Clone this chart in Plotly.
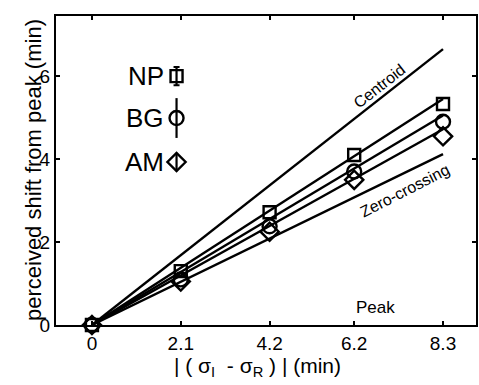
import plotly.graph_objects as go

# ---- data ----
x_vals = [0, 2.1, 4.2, 6.2, 8.3]
tick_labels = ["0", "2.1", "4.2", "6.2", "8.3"]
np_vals = [0, 1.30, 2.72, 4.10, 5.33]
bg_vals = [0, 1.10, 2.38, 3.70, 4.90]
am_vals = [0, 1.05, 2.25, 3.50, 4.55]

line_x = [0, 8.3]
centroid_line = [0, 6.65]
np_line = [0, 5.45]
bg_line = [0, 5.05]
am_line = [0, 4.72]
zero_line = [0, 4.12]

observers = ["NP", "BG", "AM"]
legend_err = [0.22, 0.48, 0.22]

FONT = "Liberation Sans, Arial, Helvetica, sans-serif"

fig = go.Figure()

for ys in [centroid_line, np_line, bg_line, am_line, zero_line]:
    fig.add_trace(go.Scatter(x=line_x, y=ys, mode="lines",
                             line=dict(color="black", width=2.4),
                             showlegend=False, hoverinfo="skip"))

sym = {"NP": "square-open", "BG": "circle-open", "AM": "diamond-open"}
vals = {"NP": np_vals, "BG": bg_vals, "AM": am_vals}
sizes = {"NP": 12, "BG": 14, "AM": 14}
for name in ["AM", "BG", "NP"]:
    fig.add_trace(go.Scatter(x=x_vals, y=vals[name], mode="markers",
                             marker=dict(symbol=sym[name], size=sizes[name], color="black",
                                         line=dict(width=2.4, color="black")),
                             cliponaxis=False, showlegend=False))

# legend block
leg_y = [6.0, 4.99, 3.93]
for name, ly, err in zip(observers, leg_y, legend_err):
    fig.add_trace(go.Scatter(x=[2.0], y=[ly], mode="markers",
                             marker=dict(symbol=sym[name], size=sizes[name], color="black",
                                         line=dict(width=2.4, color="black")),
                             error_y=dict(type="constant", value=err, color="black",
                                          thickness=2.2, width=3 if name == "NP" else 0),
                             showlegend=False))
    fig.add_annotation(x=1.74, y=ly, text=name, showarrow=False, xanchor="right",
                       yanchor="middle", font=dict(size=26, family=FONT, color="black"))

fig.add_annotation(x=6.78, y=5.76, text="Centroid", showarrow=False, textangle=-38,
                   font=dict(size=16, family=FONT, color="black"))
fig.add_annotation(x=7.40, y=3.24, text="Zero-crossing", showarrow=False, textangle=-27,
                   font=dict(size=16, family=FONT, color="black"))
fig.add_annotation(x=6.71, y=0.41, text="Peak", showarrow=False,
                   font=dict(size=17, family=FONT, color="black"))

fig.add_annotation(xref="paper", yref="paper", x=-0.088, y=0.50,
                   text="perceived shift from peak (min)", textangle=-90, showarrow=False,
                   font=dict(size=22, family=FONT, color="black"))
fig.add_annotation(xref="paper", yref="paper", x=0.48, y=-0.135, yanchor="middle",
                   text="| ( σ<sub>I</sub>  - σ<sub>R</sub> ) | (min)", showarrow=False,
                   font=dict(size=21, family=FONT, color="black"))

axis_common = dict(showline=True, linewidth=2.2, linecolor="black", mirror="ticks",
                   ticks="inside", ticklen=4, tickwidth=2, tickcolor="black",
                   showgrid=False, zeroline=False,
                   tickfont=dict(size=19, family=FONT, color="black"))

fig.update_xaxes(range=[-0.85, 9.08], tickvals=x_vals, ticktext=tick_labels, **axis_common)
fig.update_yaxes(range=[0, 7.45], tickvals=[0, 2, 4, 6], ticktext=["0", "2", "4", "6"],
                 **axis_common)

fig.update_layout(width=479, height=385, margin=dict(l=56, r=1, t=16, b=60),
                  plot_bgcolor="white", paper_bgcolor="white", showlegend=False)

fig.write_html("out.html")
